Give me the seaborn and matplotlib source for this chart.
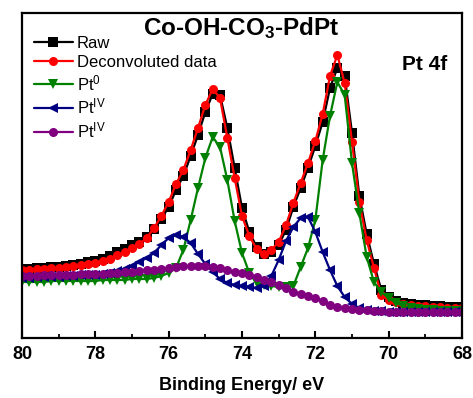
import numpy as np
import pandas as pd
import matplotlib
matplotlib.use("Agg")
import matplotlib.pyplot as plt
from matplotlib.ticker import MultipleLocator
import seaborn as sns

# ---------------- data ----------------
energy = [80.0, 79.8, 79.6, 79.4, 79.2, 79.0, 78.8, 78.6, 78.4, 78.2,
          78.0, 77.8, 77.6, 77.4, 77.2, 77.0, 76.8, 76.6, 76.4, 76.2,
          76.0, 75.8, 75.6, 75.4, 75.2, 75.0, 74.8, 74.6, 74.4, 74.2,
          74.0, 73.8, 73.6, 73.4, 73.2, 73.0, 72.8, 72.6, 72.4, 72.2,
          72.0, 71.8, 71.6, 71.4, 71.2, 71.0, 70.8, 70.6, 70.4, 70.2,
          70.0, 69.8, 69.6, 69.4, 69.2, 69.0, 68.8, 68.6, 68.4, 68.2, 68.0]

raw = [69, 69, 70, 70, 71, 71, 72, 73, 74, 76,
       77, 79, 82, 86, 89, 93, 96, 101, 109, 119,
       131, 148, 162, 182, 203, 226, 244, 243, 210, 170,
       130, 106, 91, 84, 86, 93, 108, 131, 150, 170,
       192, 216, 250, 270, 262, 205, 142, 104, 74, 48,
       41, 37, 35, 34, 33, 33, 32, 32, 31, 31, 31]

deconv = [68, 68, 69, 69, 70, 70, 71, 72, 73, 74,
          75, 77, 79, 83, 86, 90, 94, 100, 110, 122,
          136, 154, 168, 188, 210, 233, 249, 240, 200, 160,
          122, 102, 89, 84, 88, 96, 113, 135, 155, 175,
          197, 224, 262, 283, 255, 196, 136, 98, 70, 43,
          38, 36, 34, 33, 32, 32, 31, 31, 30, 30, 30]

pt0 = [56, 56, 56, 56, 57, 57, 57, 57, 57, 57,
       57, 58, 58, 58, 58, 59, 59, 59, 60, 62,
       65, 70, 88, 118, 150, 180, 201, 191, 158, 117,
       85, 65, 55, 53, 52, 51, 51, 52, 71, 90,
       118, 178, 222, 256, 243, 175, 125, 81, 56, 46,
       40, 35, 32, 30, 29, 28, 28, 27, 27, 27, 27]

pt4_a = [60, 60, 61, 61, 61, 61, 62, 62, 63, 63,
         63, 64, 65, 67, 69, 72, 76, 80, 85, 93,
         100, 103, 101, 95, 84, 74, 66, 59, 55, 53,
         52, 51, 50, 52, 62, 78, 97, 111, 120, 121,
         106, 86, 68, 52, 41, 34, 30, 28, 27, 27,
         26, 26, 26, 26, 26, 26, 26, 26, 26, 26, 26]

pt4_b = [62, 62, 62, 63, 63, 63, 63, 63, 64, 64,
         64, 64, 65, 65, 66, 66, 67, 68, 68, 69,
         70, 71, 72, 72, 72, 72, 71, 70, 68, 66,
         65, 63, 61, 58, 56, 53, 50, 46, 44, 42,
         40, 37, 33, 31, 30, 29, 28, 28, 27, 27,
         26, 26, 26, 26, 26, 26, 26, 26, 26, 26, 26]

series_names = ["Raw", "Deconvoluted data", r"Pt$^{\mathrm{0}}$",
                r"Pt$^{\mathrm{IV}}$", r"Pt$^{\mathrm{IV}}$ "]
series_values = [raw, deconv, pt0, pt4_a, pt4_b]
xtick_values = [80, 78, 76, 74, 72, 70, 68]

# ---------------- styling ----------------
sns.set_theme(style="white")
plt.rcParams["font.family"] = ["Liberation Sans", "DejaVu Sans"]
plt.rcParams["mathtext.fontset"] = "custom"
plt.rcParams["mathtext.rm"] = "Liberation Sans"
plt.rcParams["mathtext.it"] = "Liberation Sans:italic"
plt.rcParams["mathtext.bf"] = "Liberation Sans:bold"
plt.rcParams["text.color"] = "black"
plt.rcParams["axes.labelcolor"] = "black"
plt.rcParams["xtick.color"] = "black"
plt.rcParams["xtick.labelcolor"] = "black"

colors = ["#000000", "#ff0000", "#008000", "#000080", "#800080"]
markers = ["s", "o", "v", "<", "o"]

frames = []
for name, vals in zip(series_names, series_values):
    frames.append(pd.DataFrame({"energy": energy, "intensity": vals, "series": name}))
df = pd.concat(frames, ignore_index=True)

fig = plt.figure(figsize=(4.73, 3.98), dpi=100)
ax = fig.add_axes([22 / 473, 60 / 398, 440 / 473, 325 / 398])

for name, c, m in zip(series_names, colors, markers):
    sub = df[df["series"] == name]
    sns.lineplot(data=sub, x="energy", y="intensity", ax=ax, color=c,
                 marker=m, markersize=6.5, markeredgewidth=0, linewidth=1.6,
                 sort=False, estimator=None, label=name)

ax.set_xlim(80, 68)
ax.set_ylim(0, 325)
ax.set_yticks([])
ax.set_xticks(xtick_values)
ax.xaxis.set_minor_locator(MultipleLocator(1))
ax.tick_params(axis="x", which="major", direction="in", length=5, width=1.5,
               labelsize=13, pad=6, bottom=True, top=False, colors="black")
ax.tick_params(axis="x", which="minor", direction="in", length=3, width=1.3,
               bottom=True, top=False, colors="black")
for lbl in ax.get_xticklabels():
    lbl.set_fontweight("bold")
for sp in ax.spines.values():
    sp.set_linewidth(1.6)
    sp.set_color("black")

ax.set_xlabel("Binding Energy/ eV", fontsize=13, fontweight="bold", labelpad=10,
              color="black")
ax.set_ylabel("")

ax.text(0.498, 0.932, r"Co-OH-CO$_\mathbf{3}$-PdPt", transform=ax.transAxes,
        ha="center", va="baseline", fontsize=17.5, fontweight="bold", color="black")
ax.text(0.914, 0.843, "Pt 4f", transform=ax.transAxes, ha="center", va="center",
        fontsize=15, fontweight="bold", color="black")

leg = ax.legend(loc="upper left", frameon=False, fontsize=12, handlelength=2.35,
                handletextpad=0.25, labelspacing=0.22, borderaxespad=0.3,
                bbox_to_anchor=(0.0, 0.965))
for t in leg.get_texts():
    t.set_color("black")

fig.savefig("out.png", dpi=100)
